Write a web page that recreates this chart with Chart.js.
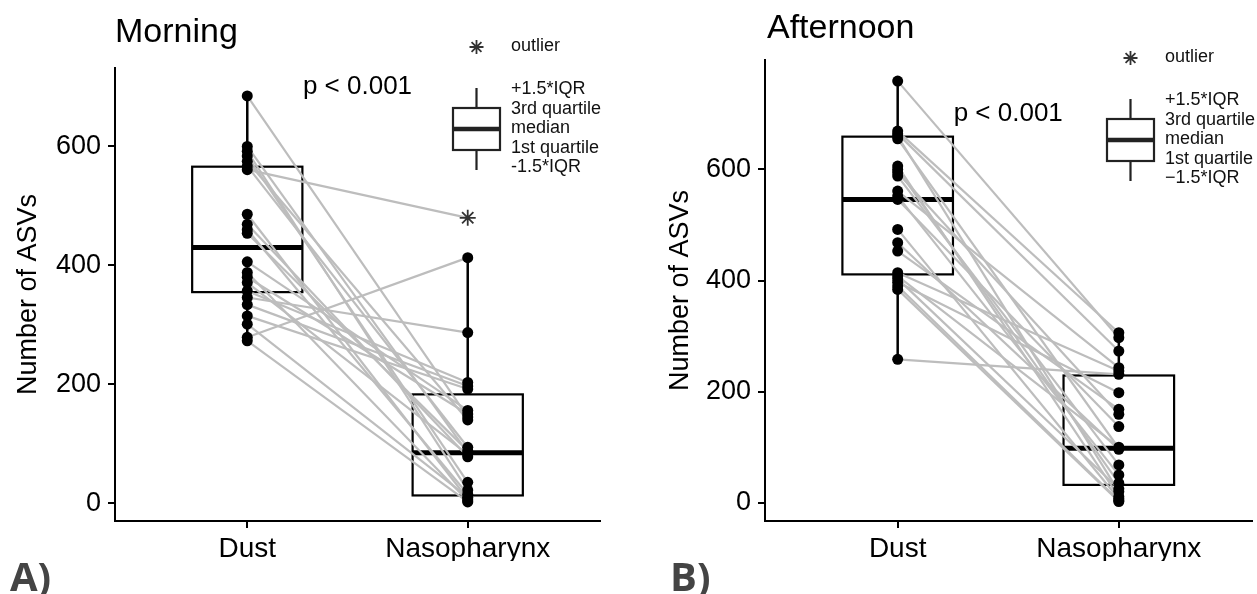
<!DOCTYPE html>
<html>
<head>
<meta charset="utf-8">
<script src="https://cdn.jsdelivr.net/npm/chart.js@4"></script>
<style>
  body { margin: 0; background: #fff; }
  #wrap { position: relative; width: 1257px; height: 594px; }
  canvas { position: absolute; top: 0; }
</style>
</head>
<body>
<div id="wrap">
  <canvas id="morningChart" width="640" height="594" style="left:0"></canvas>
  <canvas id="afternoonChart" width="617" height="594" style="left:640px"></canvas>
</div>
<script>
// sample groups and axis ticks
const groups = ['Dust', 'Nasopharynx'];
const yTicks = [0, 200, 400, 600];

// paired ASV counts, one entry per subject (dust[i] pairs with naso[i])
const morningDust = [685, 600, 592, 584, 575, 567, 561, 486, 469, 460, 454, 406, 388, 380, 371, 357, 346, 334, 315, 301, 279, 273];
const morningNaso = [145, 85, 22, 35, 140, 94, 480, 7, 78, 15, 88, 156, 4, 150, 82, 203, 287, 197, 192, 10, 413, 2];
const afternoonDust = [759, 669, 664, 660, 655, 606, 600, 594, 588, 561, 552, 546, 492, 468, 453, 414, 408, 403, 397, 390, 384, 258];
const afternoonNaso = [297, 306, 273, 20, 98, 11, 35, 159, 68, 243, 50, 137, 7, 96, 168, 237, 100, 25, 198, 4, 2, 231];

// box stats: [lower whisker, 1st quartile, median, 3rd quartile, upper whisker]
const morningBoxDust = [273, 355, 430, 566, 685];
const morningBoxNaso = [2, 13, 85, 183, 413];
const afternoonBoxDust = [258, 411, 546, 659, 759];
const afternoonBoxNaso = [2, 32, 98, 229, 306];

const pText = 'p < 0.001';
const legendMorning = ['+1.5*IQR', '3rd quartile', 'median', '1st quartile', '-1.5*IQR'];
const legendAfternoon = ['+1.5*IQR', '3rd quartile', 'median', '1st quartile', '\u22121.5*IQR'];

const FONT = '"Liberation Sans", Arial, sans-serif';

// draws the boxes and whiskers under the paired lines
const boxPlugin = {
  id: 'boxes',
  beforeDatasetsDraw(chart, args, opts) {
    const ctx = chart.ctx;
    const x = chart.scales.x, y = chart.scales.y;
    ctx.save();
    opts.stats.forEach(function (s, i) {
      const cx = x.getPixelForValue(i + 1);
      const left = x.getPixelForValue(i + 1 - 0.25);
      const right = x.getPixelForValue(i + 1 + 0.25);
      const yLo = y.getPixelForValue(s[0]);
      const yQ1 = y.getPixelForValue(s[1]);
      const yMed = y.getPixelForValue(s[2]);
      const yQ3 = y.getPixelForValue(s[3]);
      const yHi = y.getPixelForValue(s[4]);
      ctx.strokeStyle = '#000';
      ctx.lineWidth = 2.5;
      ctx.beginPath();
      ctx.moveTo(cx, yQ3); ctx.lineTo(cx, yHi);
      ctx.moveTo(cx, yQ1); ctx.lineTo(cx, yLo);
      ctx.stroke();
      ctx.fillStyle = '#fff';
      ctx.fillRect(left, yQ3, right - left, yQ1 - yQ3);
      ctx.lineWidth = 2.2;
      ctx.strokeRect(left, yQ3, right - left, yQ1 - yQ3);
      ctx.lineWidth = 5;
      ctx.beginPath();
      ctx.moveTo(left, yMed); ctx.lineTo(right, yMed);
      ctx.stroke();
    });
    ctx.restore();
  }
};

// panel title, p value, box legend and panel letter
const notesPlugin = {
  id: 'notes',
  afterDraw(chart, args, opts) {
    const ctx = chart.ctx;
    const x = chart.scales.x, y = chart.scales.y;
    ctx.save();
    ctx.fillStyle = '#000';
    ctx.textBaseline = 'alphabetic';
    ctx.textAlign = 'left';
    ctx.font = '34px ' + FONT;
    ctx.fillText(opts.title, opts.titleX, opts.titleY);

    ctx.textAlign = 'center';
    ctx.textBaseline = 'middle';
    ctx.font = '26px ' + FONT;
    ctx.fillText(pText, x.getPixelForValue(1.5), y.getPixelForValue(700));

    // legend
    const lx = opts.legendX, ly = opts.legendY;
    const wx = lx + 23.5;
    ctx.strokeStyle = '#333';
    ctx.lineWidth = 1.8;
    ctx.beginPath();
    for (let k = 0; k < 4; k++) {
      const a = k * Math.PI / 4;
      ctx.moveTo(wx - 7 * Math.cos(a), ly + 17 - 7 * Math.sin(a));
      ctx.lineTo(wx + 7 * Math.cos(a), ly + 17 + 7 * Math.sin(a));
    }
    ctx.stroke();
    ctx.strokeStyle = '#222';
    ctx.lineWidth = 2.2;
    ctx.beginPath();
    ctx.moveTo(wx, ly + 58); ctx.lineTo(wx, ly + 78);
    ctx.moveTo(wx, ly + 120); ctx.lineTo(wx, ly + 140);
    ctx.stroke();
    ctx.strokeRect(lx, ly + 78, 47, 42);
    ctx.lineWidth = 4.5;
    ctx.beginPath();
    ctx.moveTo(lx, ly + 99); ctx.lineTo(lx + 47, ly + 99);
    ctx.stroke();

    ctx.fillStyle = '#111';
    ctx.textAlign = 'left';
    ctx.font = '18px ' + FONT;
    ctx.fillText('outlier', lx + 58, ly + 16);
    opts.legend.forEach(function (t, k) {
      ctx.fillText(t, lx + 58, ly + 59 + k * 19.6);
    });

    ctx.fillStyle = '#444';
    ctx.textBaseline = 'alphabetic';
    ctx.font = 'bold 40px "Open Sans", sans-serif';
    ctx.fillText(opts.letter, opts.letterX, 591);
    ctx.restore();
  }
};

function makePanel(canvasId, dust, naso, boxDust, boxNaso, cfg) {
  const datasets = [];
  datasets.push({
    data: dust.map(v => ({ x: 1, y: v })),
    showLine: false,
    pointRadius: 5.5,
    pointBackgroundColor: '#000',
    pointBorderWidth: 0,
    order: 0
  });
  datasets.push({
    data: naso.map(v => ({ x: 2, y: v })),
    showLine: false,
    pointStyle: c => c.raw.y > boxNaso[4] ? 'star' : 'circle',
    pointRadius: c => c.raw.y > boxNaso[4] ? 8 : 5.5,
    pointBackgroundColor: '#000',
    pointBorderColor: c => c.raw.y > boxNaso[4] ? '#333' : '#000',
    pointBorderWidth: c => c.raw.y > boxNaso[4] ? 1.8 : 0,
    order: 0
  });
  // grey lines joining each subject's two samples
  for (let i = 0; i < dust.length; i++) {
    datasets.push({
      data: [{ x: 1, y: dust[i] }, { x: 2, y: naso[i] }],
      showLine: true,
      borderColor: '#bdbdbd',
      borderWidth: 2.2,
      pointRadius: 0,
      order: 1
    });
  }

  return new Chart(document.getElementById(canvasId), {
    type: 'scatter',
    data: { datasets: datasets },
    options: {
      responsive: false,
      animation: false,
      devicePixelRatio: 1,
      layout: { padding: { left: 0, top: cfg.top, right: cfg.right, bottom: 33 } },
      plugins: {
        legend: { display: false },
        tooltip: { enabled: false },
        boxes: { stats: [boxDust, boxNaso] },
        notes: cfg.notes
      },
      scales: {
        x: {
          type: 'linear',
          min: 0.4,
          max: 2.6,
          afterBuildTicks: s => { s.ticks = [{ value: 1 }, { value: 2 }]; },
          afterFit: s => { s.height = 40; },
          ticks: {
            callback: v => groups[v - 1],
            color: '#000',
            font: { family: FONT, size: 28 },
            padding: 4,
            maxRotation: 0
          },
          grid: { drawOnChartArea: false, drawTicks: true, tickLength: 7, color: '#000', lineWidth: 2 },
          border: { display: true, color: '#000', width: 2 }
        },
        y: {
          min: cfg.yMin,
          max: cfg.yMax,
          afterBuildTicks: s => { s.ticks = yTicks.map(v => ({ value: v })); },
          afterFit: s => { s.width = cfg.axisX; },
          ticks: {
            color: '#000',
            font: { family: FONT, size: 27 },
            padding: 7
          },
          title: {
            display: true,
            text: 'Number of ASVs',
            color: '#000',
            font: { family: FONT, size: 27 },
            padding: { top: cfg.titlePad, bottom: 0 }
          },
          grid: { drawOnChartArea: false, drawTicks: true, tickLength: 7, color: '#000', lineWidth: 2 },
          border: { display: true, color: '#000', width: 2 }
        }
      }
    },
    plugins: [boxPlugin, notesPlugin]
  });
}

makePanel('morningChart', morningDust, morningNaso, morningBoxDust, morningBoxNaso, {
  top: 68, right: 40, yMin: -30, yMax: 732, axisX: 115, titlePad: 12,
  notes: { title: 'Morning', titleX: 115, titleY: 42, legendX: 453, legendY: 30, legend: legendMorning, letter: 'A)', letterX: 10 }
});

makePanel('afternoonChart', afternoonDust, afternoonNaso, afternoonBoxDust, afternoonBoxNaso, {
  top: 60, right: 4, yMin: -33, yMax: 797, axisX: 125, titlePad: 24,
  notes: { title: 'Afternoon', titleX: 127, titleY: 38, legendX: 467, legendY: 41, legend: legendAfternoon, letter: 'B)', letterX: 30 }
});
</script>
</body>
</html>
